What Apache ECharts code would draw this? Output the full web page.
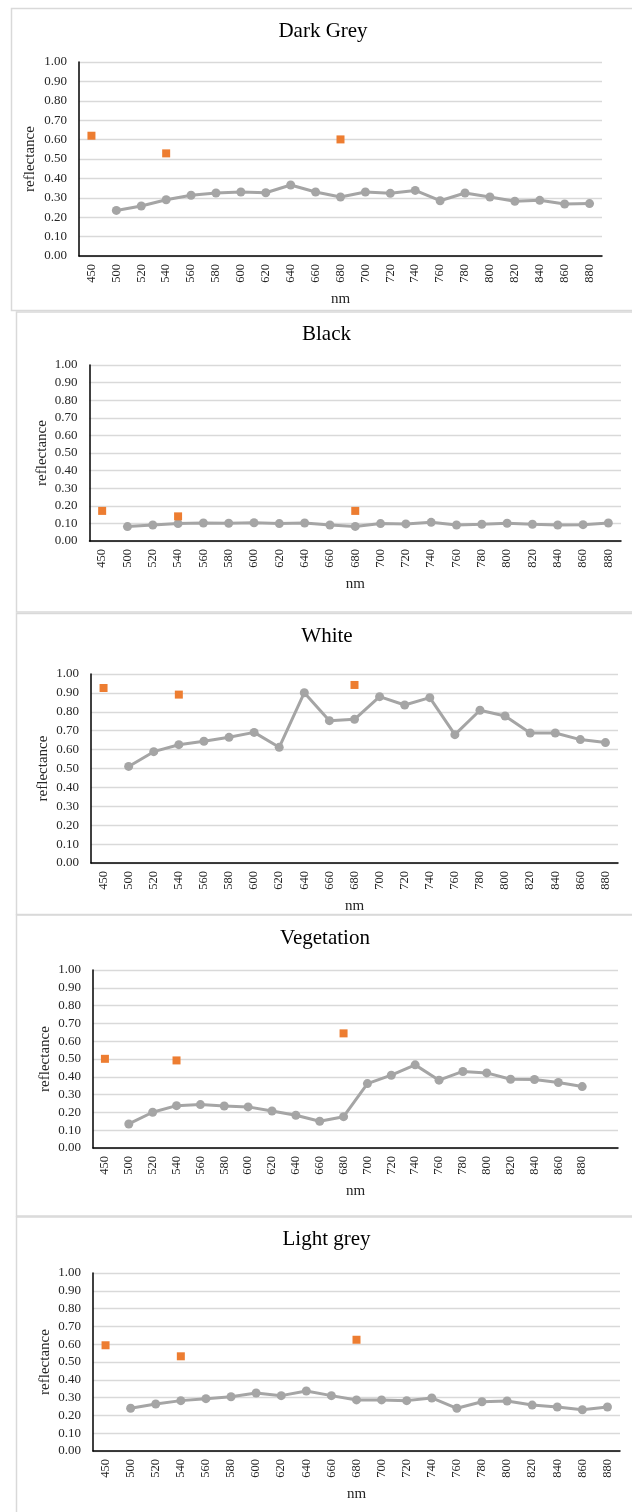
<!DOCTYPE html>
<html>
<head>
<meta charset="utf-8">
<title>Reflectance spectra</title>
<script src="https://cdn.jsdelivr.net/npm/echarts@6/dist/echarts.min.js"></script>
<style>
  html, body { margin: 0; padding: 0; background: #ffffff; }
  #chart { width: 632px; height: 1512px; }
</style>
</head>
<body>
<div id="chart"></div>
<script>
// Wavelength categories (nm)
const wavelengths = ['450', '500', '520', '540', '560', '580', '600', '620', '640', '660', '680',
  '700', '720', '740', '760', '780', '800', '820', '840', '860', '880'];
// Vegetation panel carries one extra empty slot at the right end
const wavelengthsPadded = wavelengths.concat(['']);
// Band wavelengths of the orange square markers
const bandWavelengths = ['450', '540', '680'];
const yTicks = [0, 0.1, 0.2, 0.3, 0.4, 0.5, 0.6, 0.7, 0.8, 0.9, 1.0];

// Spectra from 500 nm to 880 nm (no value at 450 nm)
const darkGreySpectrum = [0.235, 0.258, 0.290, 0.313, 0.325, 0.330, 0.326, 0.366, 0.330, 0.304,
  0.330, 0.323, 0.338, 0.285, 0.325, 0.304, 0.282, 0.287, 0.268, 0.270];
const darkGreyBands = [0.620, 0.529, 0.601];

const blackSpectrum = [0.082, 0.091, 0.099, 0.102, 0.101, 0.104, 0.099, 0.102, 0.091, 0.083,
  0.099, 0.097, 0.106, 0.091, 0.095, 0.101, 0.095, 0.091, 0.093, 0.102];
const blackBands = [0.171, 0.140, 0.171];

const whiteSpectrum = [0.511, 0.589, 0.626, 0.644, 0.665, 0.691, 0.612, 0.901, 0.753, 0.760,
  0.880, 0.836, 0.875, 0.679, 0.808, 0.778, 0.688, 0.688, 0.653, 0.637];
const whiteBands = [0.926, 0.891, 0.942];

const vegetationSpectrum = [0.135, 0.201, 0.238, 0.244, 0.236, 0.231, 0.208, 0.184, 0.150, 0.176,
  0.362, 0.409, 0.467, 0.381, 0.430, 0.422, 0.386, 0.385, 0.368, 0.345];
const vegetationBands = [0.501, 0.492, 0.644];

const lightGreySpectrum = [0.240, 0.264, 0.283, 0.294, 0.305, 0.326, 0.311, 0.337, 0.311, 0.287,
  0.287, 0.283, 0.298, 0.240, 0.277, 0.281, 0.258, 0.247, 0.232, 0.247];
const lightGreyBands = [0.594, 0.532, 0.625];

const panelTitles = ['Dark Grey', 'Black', 'White', 'Vegetation', 'Light grey'];
const panelSpectra = [darkGreySpectrum, blackSpectrum, whiteSpectrum, vegetationSpectrum, lightGreySpectrum];
const panelBands = [darkGreyBands, blackBands, whiteBands, vegetationBands, lightGreyBands];
const panelCategories = [wavelengths, wavelengths, wavelengths, wavelengthsPadded, wavelengths];

// Layout of each panel: frame, plot area, title placement and y-axis name gap
const layout = [
  { frame: [11.5, 8.5, 640, 302], grid: [79, 62, 523, 194], title: [323, 21], yNameGap: 41 },
  { frame: [16.5, 312, 640, 300], grid: [89.5, 365, 531.5, 176], title: [326.5, 324], yNameGap: 40 },
  { frame: [16.5, 613.5, 640, 301], grid: [91, 674, 527, 189], title: [327, 626], yNameGap: 40 },
  { frame: [16.5, 915, 640, 301], grid: [93, 970, 525, 178], title: [325, 928], yNameGap: 40 },
  { frame: [16.5, 1217, 640, 400], grid: [93, 1273, 527, 178], title: [326.5, 1229], yNameGap: 40 }
];

const FONT = "'Liberation Serif', 'Times New Roman', serif";
const TEXT = '#262626';
const LINE_GREY = '#A5A5A5';
const ORANGE = '#ED7D31';

const option = {
  animation: false,
  backgroundColor: '#ffffff',
  title: [],
  grid: [],
  xAxis: [],
  yAxis: [],
  series: [],
  graphic: []
};

layout.forEach((p, i) => {
  option.graphic.push({
    type: 'rect',
    silent: true,
    z: -1,
    shape: { x: p.frame[0], y: p.frame[1], width: p.frame[2], height: p.frame[3] },
    style: { fill: 'none', stroke: '#D9D9D9', lineWidth: 1.5 }
  });

  option.title.push({
    text: panelTitles[i],
    left: p.title[0],
    top: p.title[1],
    textAlign: 'center',
    padding: 0,
    textStyle: { fontFamily: FONT, fontSize: 21, fontWeight: 'normal', color: '#000000' }
  });

  option.grid.push({
    left: p.grid[0], top: p.grid[1], width: p.grid[2], height: p.grid[3],
    containLabel: false
  });

  option.xAxis.push({
    type: 'category',
    gridIndex: i,
    data: panelCategories[i],
    boundaryGap: true,
    name: 'nm',
    nameLocation: 'middle',
    nameGap: 36,
    nameMoveOverlap: false,
    nameTextStyle: { fontFamily: FONT, fontSize: 15, color: TEXT },
    axisLine: { show: true, onZero: false, lineStyle: { color: '#000000', width: 1.5 } },
    axisTick: { show: false },
    axisLabel: {
      rotate: 90, interval: 0, margin: 8,
      fontFamily: FONT, fontSize: 12.5, color: TEXT
    },
    splitLine: { show: false }
  });

  option.yAxis.push({
    type: 'value',
    gridIndex: i,
    min: yTicks[0],
    max: yTicks[yTicks.length - 1],
    interval: 0.1,
    name: 'reflectance',
    nameLocation: 'middle',
    nameRotate: 90,
    nameGap: p.yNameGap,
    nameMoveOverlap: false,
    nameTextStyle: { fontFamily: FONT, fontSize: 15, color: TEXT },
    axisLine: { show: true, lineStyle: { color: '#000000', width: 1.5 } },
    axisTick: { show: false },
    axisLabel: {
      margin: 12, fontFamily: FONT, fontSize: 13, color: TEXT,
      formatter: v => v.toFixed(2)
    },
    splitLine: { show: true, lineStyle: { color: '#D9D9D9', width: 1.3 } }
  });

  // Grey spectrum: no reading at 450 nm, so the line starts at 500 nm
  option.series.push({
    type: 'line',
    xAxisIndex: i,
    yAxisIndex: i,
    data: [null].concat(panelSpectra[i]),
    connectNulls: false,
    symbol: 'circle',
    symbolSize: 9,
    showSymbol: true,
    lineStyle: { color: LINE_GREY, width: 3 },
    itemStyle: { color: LINE_GREY },
    z: 2
  });

  // Orange band readings at 450, 540 and 680 nm
  option.series.push({
    type: 'scatter',
    xAxisIndex: i,
    yAxisIndex: i,
    data: bandWavelengths.map((w, k) => [w, panelBands[i][k]]),
    symbol: 'rect',
    symbolSize: 8,
    itemStyle: { color: ORANGE, opacity: 1 },
    z: 3
  });
});

const chart = echarts.init(document.getElementById('chart'), null, { renderer: 'canvas' });
chart.setOption(option);
</script>
</body>
</html>
